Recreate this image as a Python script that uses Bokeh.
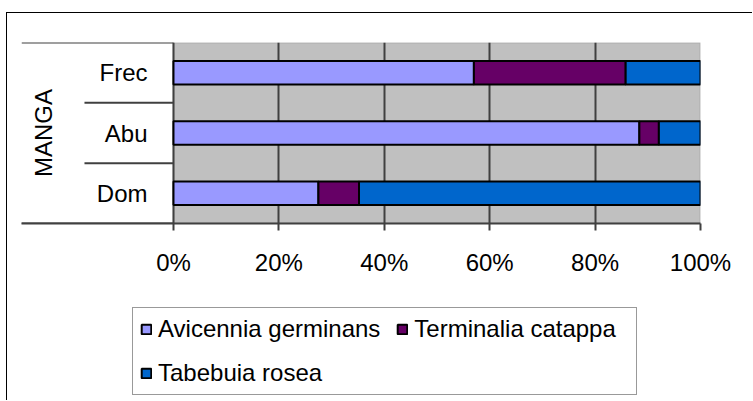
from bokeh.plotting import figure
from bokeh.layouts import column
from bokeh.models import (ColumnDataSource, FactorRange, Range1d, FixedTicker,
                          NumeralTickFormatter, Legend, BoxAnnotation)
from bokeh.core.properties import value
from bokeh.embed import file_html
from bokeh.resources import INLINE
import math

# ---- data (percent of each category) ----
categories = ["Dom", "Abu", "Frec"]
group_label = "MANGA"
species = ["Avicennia germinans", "Terminalia catappa", "Tabebuia rosea"]
avicennia = [27.5, 88.4, 57.0]
terminalia = [7.7, 3.7, 28.8]
tabebuia = [64.8, 7.9, 14.2]
x_ticks = [0, 20, 40, 60, 80, 100]
colors = ["#9999FF", "#660066", "#0066CC"]

FONT = "Liberation Sans"
AXIS_W = 0.2884      # width of the category-axis area, in plot-width units
INNER_W = 0.1689     # length of the inner category separators

n = len(categories)
source = ColumnDataSource(data=dict(
    cat=categories,
    **{species[0]: [v / 100 for v in avicennia],
       species[1]: [v / 100 for v in terminalia],
       species[2]: [v / 100 for v in tabebuia]}
))

W = 745
p = figure(width=W, height=270, output_backend="svg", toolbar_location=None,
           y_range=FactorRange(factors=categories), x_range=Range1d(-AXIS_W, 1),
           min_border_left=14, min_border_right=52, min_border_top=29,
           min_border_bottom=60,
           background_fill_color="white", border_fill_color="white")
p.outline_line_color = None

# plot area (grey background with grey border)
p.add_layout(BoxAnnotation(left=0, right=1, bottom=0, top=n, level="image",
                           fill_color="#C0C0C0", fill_alpha=1,
                           line_color="#808080", line_width=2))

renderers = p.hbar_stack(species, y="cat", height=0.39, source=source,
                         color=colors, line_color="black", line_width=2)

# x axis
p.xaxis.ticker = FixedTicker(ticks=[t / 100 for t in x_ticks])
p.xaxis.formatter = NumeralTickFormatter(format="0%")
p.xaxis.major_tick_out = 7
p.xaxis.major_tick_in = 0
p.xaxis.minor_tick_line_color = None
p.xaxis.axis_line_color = "#404040"
p.xaxis.axis_line_width = 2
p.xaxis.major_tick_line_color = "#404040"
p.xaxis.major_tick_line_width = 2
p.xaxis.major_label_text_font = FONT
p.xaxis.major_label_text_font_size = "24px"
p.xaxis.major_label_text_color = "black"
p.xaxis.major_label_standoff = 18

p.yaxis.visible = False

# grid
p.xgrid.grid_line_color = "#404040"
p.xgrid.grid_line_width = 2
p.xgrid.level = "underlay"
p.ygrid.grid_line_color = None

# category axis: separators at the category boundaries
bounds = list(range(n + 1))
p.segment(x0=[-AXIS_W if b in (0, n) else -INNER_W for b in bounds], y0=bounds,
          x1=[0] * len(bounds), y1=bounds, line_color="#404040", line_width=2)

# category labels
p.text(x=[0] * n, y=categories, text=categories, x_offset=-26,
       text_align="right", text_baseline="middle",
       text_font=value(FONT), text_font_size="24px", text_color="black")

# group label
p.text(x=[-AXIS_W], y=[n / 2], text=[group_label], x_offset=21.5, angle=math.pi / 2,
       text_align="center", text_baseline="middle",
       text_font=value(FONT), text_font_size="24px", text_color="black")

# legend panel (separate strip below the chart)
pl = figure(width=W, height=117, output_backend="svg", toolbar_location=None,
            x_range=Range1d(0, 1), y_range=Range1d(0, 1),
            min_border_left=0, min_border_right=0, min_border_top=0,
            min_border_bottom=0, border_fill_color="white",
            background_fill_color="white")
pl.outline_line_color = None
pl.xaxis.visible = False
pl.yaxis.visible = False
pl.xgrid.visible = False
pl.ygrid.visible = False
# legend-key renderers (one off-screen row each, only used for the legend swatches)
legend_renderers = [pl.hbar(y=[-5], left=[0], right=[0], height=0.4, fill_color=c,
                            line_color="black", line_width=2) for c in colors]

legend = Legend(items=[(s, [r]) for s, r in zip(species, legend_renderers)],
                orientation="horizontal", ncols=2,
                location=(111, 5),
                label_text_font=FONT, label_text_font_size="24px",
                label_text_color="black",
                glyph_width=12, glyph_height=12, label_height=28, label_width=215,
                label_standoff=6, spacing=16, padding=7, margin=0,
                border_line_color="#333333", border_line_width=1,
                background_fill_color="white", background_fill_alpha=1)
pl.add_layout(legend, "center")

layout = column(p, pl, spacing=0,
                styles={"border-left": "1px solid #000000",
                        "border-top": "1px solid #000000",
                        "margin-top": "12px", "margin-left": "6px"})

open("out.html", "w").write(file_html(layout, INLINE))
